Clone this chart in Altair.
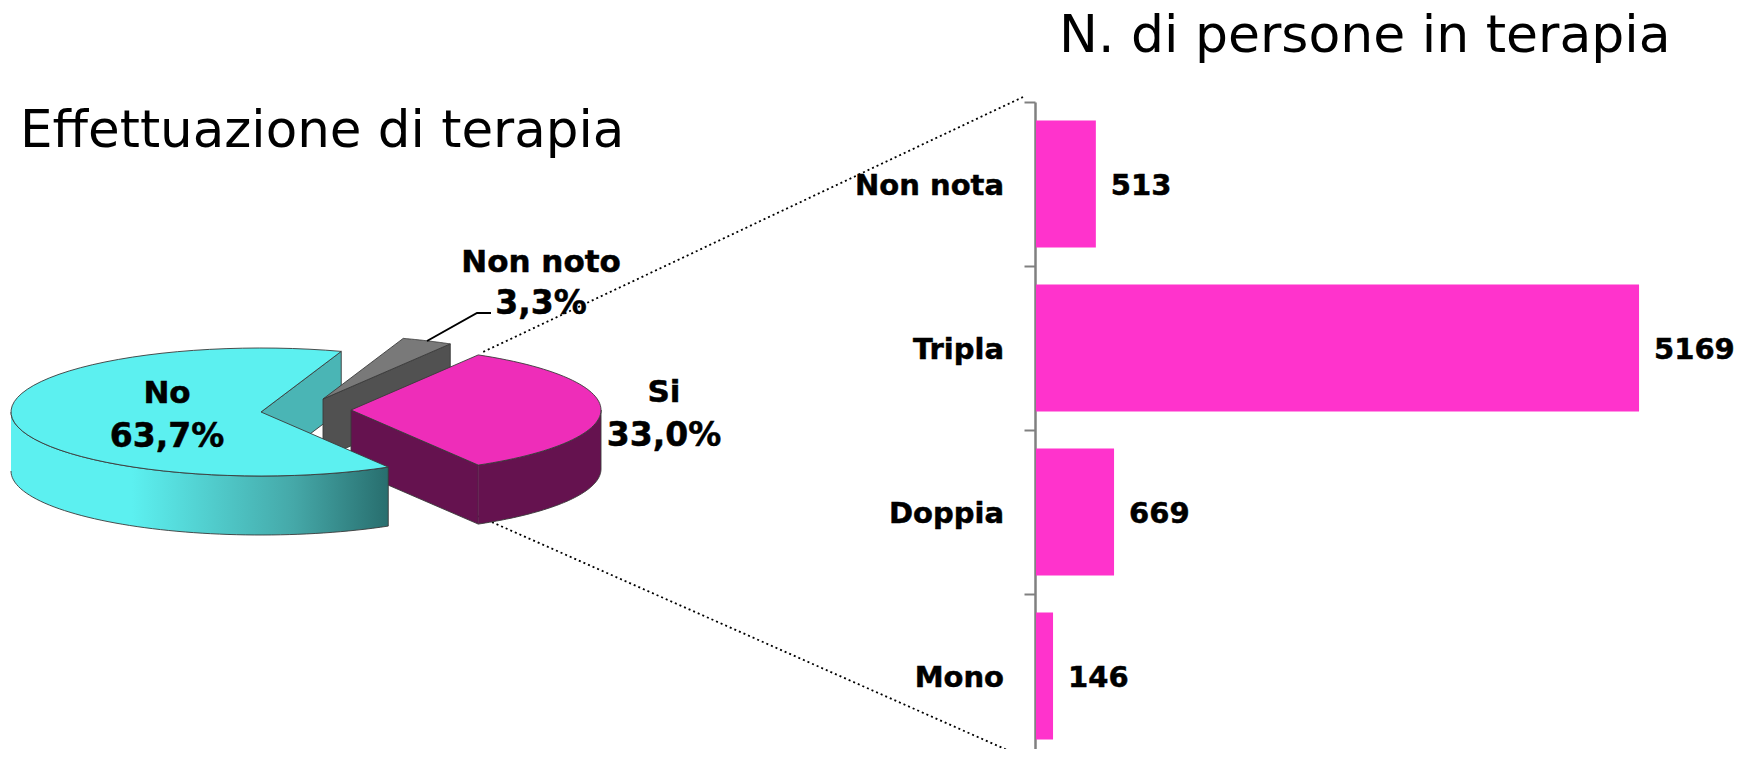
import math
import altair as alt
import pandas as pd

# ---- data ----
pie_names = ["Si", "Non noto", "No"]
pie_shares = [33.0, 3.3, 63.7]
pie_labels = [["Si", "33,0%"], ["Non noto", "3,3%"], ["No", "63,7%"]]
bar_names = ["Non nota", "Tripla", "Doppia", "Mono"]
bar_values = [513, 5169, 669, 146]
title_left = "Effettuazione di terapia"
title_right = "N. di persone in terapia"

# ---- layout (page pixels of the picture) ----
W, H = 1743, 749  # right and bottom edge of the drawing in page pixels
FONT = "DejaVu Sans"
CENTERS = {"Si": (351, 410), "Non noto": (323, 399), "No": (261, 412)}
RX, RY, DEPTH = 250, 64, 59
BAR_LEFT = 1036

# slice angles follow from the shares
start = -pie_shares[0] * 3.6 / 2
angles = {}
for name, share in zip(pie_names, pie_shares):
    angles[name] = (start, start + share * 3.6)
    start += share * 3.6


def rim(name, a0, a1, drop=0, steps=60):
    cx, cy = CENTERS[name]
    return [
        (cx + RX * math.cos(math.radians(a0 + (a1 - a0) * k / steps)),
         cy - RY * math.sin(math.radians(a0 + (a1 - a0) * k / steps)) + drop)
        for k in range(steps + 1)
    ]


def top(name):
    a0, a1 = angles[name]
    c = CENTERS[name]
    return [c] + rim(name, a0, a1) + [c]


def outer_wall(name, a0, a1):
    return rim(name, a0, a1) + rim(name, a1, a0, DEPTH)


def radial_wall(name, a):
    cx, cy = CENTERS[name]
    p = rim(name, a, a, steps=1)[0]
    return [(cx, cy), p, (p[0], p[1] + DEPTH), (cx, cy + DEPTH), (cx, cy)]


AX = alt.X("x:Q", axis=None, scale=alt.Scale(domain=[8, W]))
AY = alt.Y("y:Q", axis=None, scale=alt.Scale(domain=[H, 8]))


def poly(points, fill):
    df = pd.DataFrame({"x": [p[0] for p in points], "y": [p[1] for p in points],
                       "i": range(len(points))})
    return alt.Chart(df).mark_line(fill=fill, stroke="#3a3a3a", strokeWidth=0.9,
                                   strokeJoin="round").encode(
        x=AX, y=AY, order=alt.Order("i:Q"))


def stroke_line(points, **kw):
    df = pd.DataFrame({"x": [p[0] for p in points], "y": [p[1] for p in points],
                       "i": range(len(points))})
    return alt.Chart(df).mark_line(color="black", **kw).encode(
        x=AX, y=AY, order=alt.Order("i:Q"))


def text(s, x, y, size, bold=True, align="center"):
    df = pd.DataFrame({"x": [x], "y": [y], "t": [s]})
    extra = {"stroke": "black", "strokeWidth": 0.5} if bold else {}
    return alt.Chart(df).mark_text(font=FONT, fontSize=size, fontWeight="bold" if bold else "normal",
                                   align=align, baseline="alphabetic", color="black", **extra).encode(
        x=AX, y=AY, text="t:N")


teal_gradient = alt.Gradient(
    gradient="linear", x1=0, x2=1, y1=0, y2=0,
    stops=[alt.GradientStop(color="#5cf0f0", offset=0),
           alt.GradientStop(color="#5cf0f0", offset=0.32),
           alt.GradientStop(color="#45a8a8", offset=0.75),
           alt.GradientStop(color="#286e6e", offset=1)])

si0, si1 = angles["Si"]
nn0, nn1 = angles["Non noto"]
no0, no1 = angles["No"]
si_front = rim("Si", si0, si0, steps=1)[0]
si_back = rim("Si", si1, si1, steps=1)[0]

layers = [
    # connectors from the slice to the bar axis
    stroke_line([(si_back[0] + 5, si_back[1] - 3), (1023, 97)], strokeDash=[2, 3], strokeWidth=1.8),
    stroke_line([(si_front[0], si_front[1] + DEPTH - 8), (1023, 757)], strokeDash=[2, 3], strokeWidth=1.8),
    # inner wall of "No"
    poly(radial_wall("No", no0), "#4ab5b5"),
    # "Non noto"
    poly(radial_wall("Non noto", nn0), "#515151"),
    poly(top("Non noto"), "#797979"),
    # "Si"
    poly(radial_wall("Si", si0), "#65124f"),
    poly(outer_wall("Si", si0, 0), "#65124f"),
    poly(top("Si"), "#ee2db9"),
    # "No"
    poly(outer_wall("No", 180, no1), teal_gradient),
    poly(top("No"), "#5cf0f0"),
    # leader
    stroke_line([(427, 341), (477, 313), (491, 313)], strokeWidth=2),
    # texts
    text(title_left, 20, 147, 51.5, bold=False, align="left"),
    text(title_right, 1059, 52, 52, bold=False, align="left"),
]
label_pos = {"Si": (664, 402, 446), "Non noto": (541, 272, 314), "No": (167, 403, 447)}
for name, lab in zip(pie_names, pie_labels):
    x, y1, y2 = label_pos[name]
    layers.append(text(lab[0], x, y1, 31))
    layers.append(text(lab[1], x, y2, 33))

pie = alt.layer(*layers)

# ---- bars: own scales, placed by their ranges ----
bar_df = pd.DataFrame({"cat": bar_names, "v": bar_values})
bx = alt.X("v:Q", axis=None,
           scale=alt.Scale(domain=[0, 6000], range=[BAR_LEFT - 8, BAR_LEFT - 8 + 700]))
by = alt.Y("cat:N", sort=bar_names, title=None,
           scale=alt.Scale(range=[94, 750], padding=0),
           axis=alt.Axis(orient="left", offset=-(BAR_LEFT - 9), domainColor="#808080", domainWidth=2.5,
                         tickColor="#808080", tickWidth=2, tickSize=11, tickBand="extent",
                         labels=False))
bars = alt.Chart(bar_df).mark_bar(color="#ff33cc", size=127).encode(x=bx, y=by)
bar_text = alt.Chart(bar_df).mark_text(font=FONT, fontSize=29, fontWeight="bold", color="black",
                                       stroke="black", strokeWidth=0.5,
                                       align="left", baseline="middle", dx=15, dy=1.5).encode(
    x=bx, y=by, text="v:Q")
cat_text = alt.Chart(bar_df).mark_text(font=FONT, fontSize=29, fontWeight="bold", color="black",
                                       stroke="black", strokeWidth=0.5,
                                       align="right", baseline="middle", dy=1.5).encode(
    x=alt.value(BAR_LEFT - 8 - 32), y=by, text="cat:N")
bar_panel = alt.layer(bars, bar_text, cat_text)

chart = alt.layer(pie, bar_panel).resolve_scale(x="independent", y="independent").properties(
    width=W - 8, height=H - 8, padding=0,
    autosize=alt.AutoSizeParams(type="none"),
).configure_view(stroke=None)

chart.save("out.html", embed_options={"renderer": "svg", "actions": False})
